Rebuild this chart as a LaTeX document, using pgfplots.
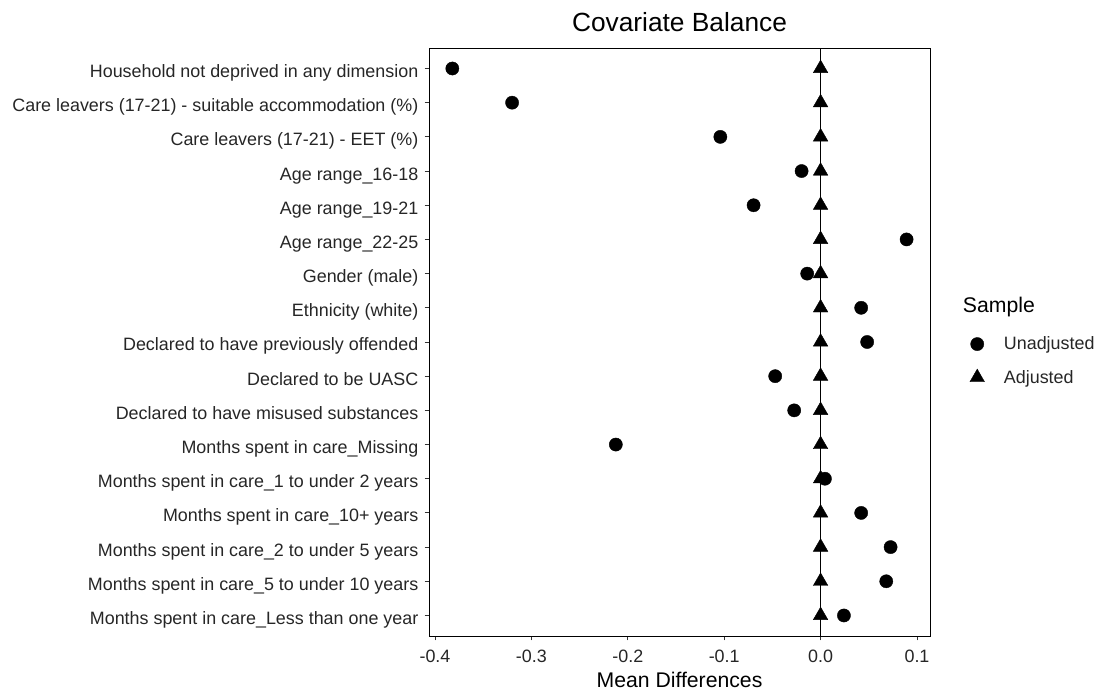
\documentclass[border=0pt]{standalone}
\usepackage{fontspec}
\setmainfont{Liberation Sans}
\usepackage{pgfplots}
\pgfplotsset{compat=1.18}
\usepackage{pgfplotstable}

% mean differences per covariate (row 17 = top of the chart)
\pgfplotstableread{
pos diff
17 -0.382
16 -0.320
15 -0.104
14 -0.0197
13 -0.0695
12 0.0892
11 -0.0139
10 0.0421
9 0.0483
8 -0.0471
7 -0.0274
6 -0.2124
5 0.0045
4 0.0421
3 0.0726
2 0.0681
1 0.0242
}\unadjusted

\pgfplotstableread{
pos diff
17 0
16 0
15 0
14 0
13 0
12 0
11 0
10 0
9 0
8 0
7 0
6 0
5 0
4 0
3 0
2 0
1 0
}\adjusted

\definecolor{ticktext}{HTML}{262626}
\definecolor{tickline}{HTML}{333333}

\begin{document}
\begin{tikzpicture}[x=1bp,y=1bp]
\useasboundingbox (0,0) rectangle (1104,690);
\begin{axis}[
  at={(429bp,54bp)}, anchor=south west,
  scale only axis, width=501bp, height=588bp,
  xmin=-0.4062, xmax=0.1135, ymin=0.4, ymax=17.6,
  clip=false,
  axis line style={black, line width=0.9bp},
  tick pos=left, tick align=outside,
  major tick length=4.5bp,
  tick style={tickline, line width=0.9bp},
  xtick={-0.4,-0.3,-0.2,-0.1,0,0.1},
  xticklabels={-0.4,-0.3,-0.2,-0.1,0.0,0.1},
  ytick={1,...,17},
  yticklabels={
    Months spent in care\_Less than one year,
    Months spent in care\_5 to under 10 years,
    Months spent in care\_2 to under 5 years,
    Months spent in care\_10+ years,
    Months spent in care\_1 to under 2 years,
    Months spent in care\_Missing,
    Declared to have misused substances,
    Declared to be UASC,
    Declared to have previously offended,
    Ethnicity (white),
    Gender (male),
    Age range\_22-25,
    Age range\_19-21,
    Age range\_16-18,
    Care leavers (17-21) - EET (\%),
    Care leavers (17-21) - suitable accommodation (\%),
    Household not deprived in any dimension},
  tick label style={font=\fontsize{17.9bp}{20bp}\selectfont, text=ticktext, inner sep=0pt},
  xticklabel style={anchor=base, yshift=-22.5bp},
  yticklabel style={anchor=base east, xshift=-6bp, yshift=-9bp},
  title={Covariate Balance},
  title style={font=\fontsize{26.3bp}{30bp}\selectfont, at={(axis description cs:0.5,1)}, anchor=base, yshift=10.7bp, inner sep=0pt},
  xlabel={Mean Differences},
  xlabel style={font=\fontsize{21.2bp}{24bp}\selectfont, at={(axis description cs:0.5,0)}, anchor=base, yshift=-51.5bp, inner sep=0pt},
  legend cell align=left,
  legend image code/.code={%
    \path[draw=none, fill=none] (0bp,0bp) -- (38.7bp,0bp);
    \draw plot[only marks] coordinates {(14bp,0bp)};},
  legend style={draw=none, fill=none, at={(axis description cs:1.0659,0.4680)}, anchor=west,
    font=\fontsize{17.9bp}{20bp}\selectfont, text=ticktext, row sep=15bp,
    inner sep=0pt, nodes={inner sep=2bp}},
]
% reference line at zero difference
\draw[black, line width=0.9bp] (axis cs:0,0.4) -- (axis cs:0,17.6);

\addplot[only marks, mark=*, mark size=6.6bp, black, mark options={fill=black, draw=black}]
  table[x=diff, y=pos] {\unadjusted};
\addlegendentry{Unadjusted}

\addplot[only marks, mark=triangle*, mark size=8.4bp, black, mark options={fill=black, draw=black}]
  table[x=diff, y=pos] {\adjusted};
\addlegendentry{Adjusted}
\end{axis}

% legend heading
\node[anchor=base west, inner sep=0pt, font=\fontsize{21.2bp}{24bp}\selectfont] at (962.7bp,377bp) {Sample};
\end{tikzpicture}
\end{document}
